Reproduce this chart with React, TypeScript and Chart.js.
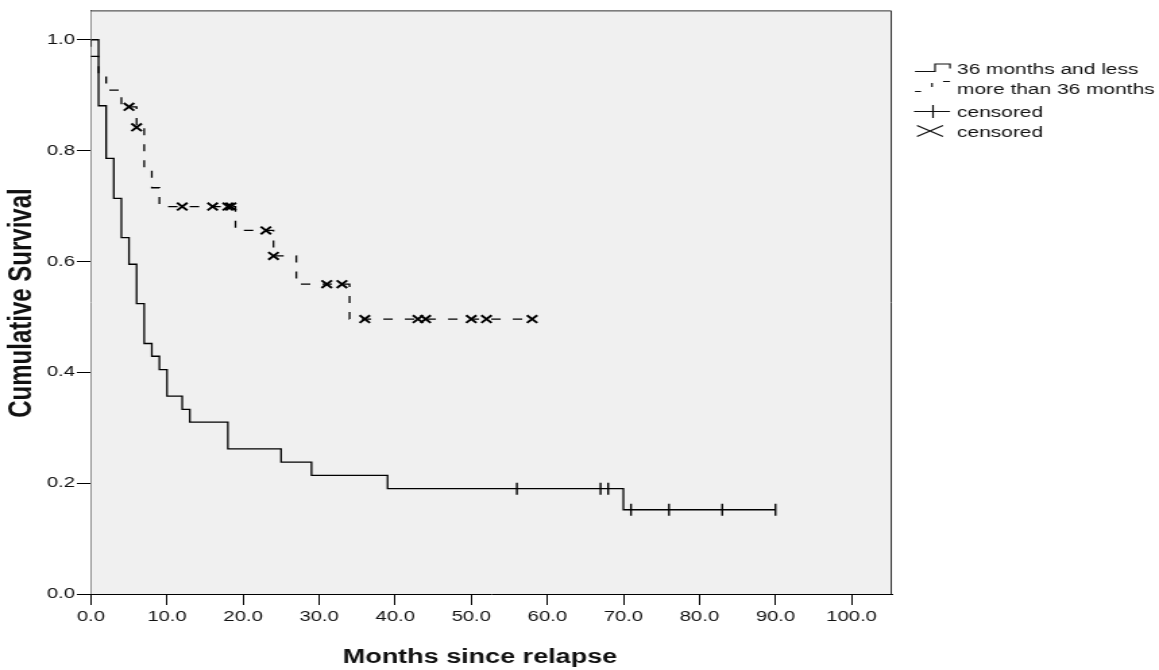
import React, { useEffect, useRef } from 'react';
import { Chart, registerables } from 'chart.js';

Chart.register(...registerables);

// The reference raster is horizontally stretched; draw on a narrower bitmap and stretch it.
const CANVAS_W = 859;
const CANVAS_H = 670;
const DISPLAY_W = 1159;

const seriesLabels = ['36 months and less', 'more than 36 months', 'censored', 'censored'];
const xAxisTitle = 'Months since relapse';
const yAxisTitle = 'Cumulative Survival';

// 36 months and less (solid step curve)
const shortTimes = [0, 1, 2, 3, 4, 5, 6, 7, 8, 9, 10, 12, 13, 18, 25, 29, 39, 70, 90];
const shortSurvival = [1.0, 0.881, 0.786, 0.714, 0.643, 0.595, 0.524, 0.452, 0.429, 0.405, 0.357, 0.333, 0.31, 0.262, 0.238, 0.214, 0.19, 0.152, 0.152];
const shortCensorTimes = [56, 67, 68, 71, 76, 83, 90];
const shortCensorSurvival = [0.19, 0.19, 0.19, 0.152, 0.152, 0.152, 0.152];

// more than 36 months (dashed step curve)
const longTimes = [0, 0, 1, 2, 4, 6, 7, 8, 9, 19, 24, 27, 34, 58];
const longSurvival = [1.0, 0.97, 0.939, 0.909, 0.879, 0.842, 0.769, 0.733, 0.699, 0.656, 0.61, 0.559, 0.496, 0.496];
const longCensorTimes = [5, 6, 12, 16, 18, 18.4, 23, 24, 31, 33, 36, 43, 44, 50, 52, 58];
const longCensorSurvival = [0.879, 0.842, 0.699, 0.699, 0.699, 0.699, 0.656, 0.61, 0.559, 0.559, 0.496, 0.496, 0.496, 0.496, 0.496, 0.496];

const xTickValues = [0, 10, 20, 30, 40, 50, 60, 70, 80, 90, 100];
const xTickLabels = ['0.0', '10.0', '20.0', '30.0', '40.0', '50.0', '60.0', '70.0', '80.0', '90.0', '100.0'];
const yTickValues = [0, 0.2, 0.4, 0.6, 0.8, 1.0];
const yTickLabels = ['0.0', '0.2', '0.4', '0.6', '0.8', '1.0'];

const X_MAX = 105.3;
const Y_MAX = 1.053;

const toPoints = (xs: number[], ys: number[]) => xs.map((x, i) => ({ x, y: ys[i] }));

const framePlugin = {
  id: 'frameAndLegend',
  beforeDatasetsDraw(chart: any) {
    const { ctx, chartArea: a } = chart;
    ctx.save();
    ctx.fillStyle = '#f0f0f0';
    ctx.fillRect(a.left, a.top, a.right - a.left, a.bottom - a.top);
    ctx.strokeStyle = '#333';
    ctx.lineWidth = 1;
    ctx.beginPath();
    ctx.moveTo(a.left, a.top + 0.5);
    ctx.lineTo(a.right - 0.5, a.top + 0.5);
    ctx.lineTo(a.right - 0.5, a.bottom);
    ctx.stroke();
    ctx.restore();
  },
  afterDraw(chart: any) {
    const { ctx } = chart;
    ctx.save();
    ctx.fillStyle = '#111';
    ctx.strokeStyle = '#111';
    // axis titles
    ctx.font = 'bold 20px "Liberation Sans", Arial, sans-serif';
    ctx.textAlign = 'left';
    ctx.textBaseline = 'alphabetic';
    ctx.fillText(xAxisTitle, 254, 663);
    ctx.save();
    ctx.translate(16.7, 303);
    ctx.rotate(-Math.PI / 2);
    ctx.font = 'bold 24px "Liberation Sans", Arial, sans-serif';
    ctx.textAlign = 'center';
    ctx.textBaseline = 'middle';
    ctx.fillText(yAxisTitle, 0, 0);
    ctx.restore();

    // legend
    const sx = (v: number) => v / (DISPLAY_W / CANVAS_W);
    ctx.font = '15.5px "Liberation Sans", Arial, sans-serif';
    ctx.textAlign = 'left';
    ctx.textBaseline = 'alphabetic';
    const textX = sx(957);
    const baselines = [74, 93.5, 116.5, 137];
    seriesLabels.forEach((t, i) => ctx.fillText(t, textX, baselines[i]));

    ctx.lineWidth = 1.2;
    // solid step symbol
    ctx.beginPath();
    ctx.moveTo(sx(915), 71.5);
    ctx.lineTo(sx(935), 71.5);
    ctx.lineTo(sx(935), 64);
    ctx.lineTo(sx(950), 64);
    ctx.lineTo(sx(950), 68.5);
    ctx.stroke();
    // dashed step symbol
    ctx.beginPath();
    ctx.moveTo(sx(915), 91.5);
    ctx.lineTo(sx(921), 91.5);
    ctx.moveTo(sx(932), 83);
    ctx.lineTo(sx(932), 87);
    ctx.moveTo(sx(943), 81.5);
    ctx.lineTo(sx(950), 81.5);
    ctx.stroke();
    // plus symbol
    ctx.beginPath();
    ctx.moveTo(sx(914), 111.5);
    ctx.lineTo(sx(950), 111.5);
    ctx.moveTo(sx(933), 105);
    ctx.lineTo(sx(933), 118);
    ctx.stroke();
    // X symbol
    ctx.beginPath();
    ctx.moveTo(sx(917), 125.5);
    ctx.lineTo(sx(943), 136.5);
    ctx.moveTo(sx(917), 136.5);
    ctx.lineTo(sx(943), 125.5);
    ctx.stroke();
    ctx.restore();
  },
};

export default function App() {
  const canvasRef = useRef<HTMLCanvasElement | null>(null);

  useEffect(() => {
    document.body.style.margin = '0';
    const canvas = canvasRef.current;
    if (!canvas) return;
    const tickFont = { family: '"Liberation Sans", Arial, sans-serif', size: 15 };
    const chart = new Chart(canvas, {
      type: 'line',
      data: {
        datasets: [
          {
            label: seriesLabels[0],
            data: toPoints(shortTimes, shortSurvival),
            stepped: 'before',
            borderColor: '#000',
            borderWidth: 1.3,
            pointRadius: 0,
            fill: false,
          },
          {
            label: seriesLabels[1],
            data: toPoints(longTimes, longSurvival),
            stepped: 'before',
            borderColor: '#000',
            borderWidth: 1.3,
            borderDash: [7, 9],
            pointRadius: 0,
            fill: false,
          },
          {
            type: 'scatter',
            label: seriesLabels[2],
            data: toPoints(shortCensorTimes, shortCensorSurvival),
            showLine: false,
            pointStyle: 'line',
            rotation: 90,
            pointRadius: 6,
            borderColor: '#000',
            borderWidth: 1.4,
          },
          {
            type: 'scatter',
            label: seriesLabels[3],
            data: toPoints(longCensorTimes, longCensorSurvival),
            showLine: false,
            pointStyle: 'crossRot',
            pointRadius: 5.4,
            borderColor: '#000',
            borderWidth: 1.9,
          },
        ] as any,
      },
      options: {
        animation: false,
        responsive: false,
        devicePixelRatio: 1,
        events: [],
        layout: { padding: { left: 0, top: 10, right: CANVAS_W - 661, bottom: 0 } },
        plugins: { legend: { display: false }, tooltip: { enabled: false }, title: { display: false } },
        scales: {
          x: {
            type: 'linear',
            min: 0,
            max: X_MAX,
            afterFit: (s: any) => { s.height = CANVAS_H - 594; },
            afterBuildTicks: (s: any) => { s.ticks = xTickValues.map((v) => ({ value: v })); },
            ticks: {
              autoSkip: false,
              maxRotation: 0,
              padding: 3,
              color: '#111',
              font: tickFont,
              callback: (_v: any, i: number) => xTickLabels[i],
            },
            grid: { drawOnChartArea: false, drawTicks: true, tickLength: 11, color: '#000', lineWidth: 1 },
            border: { display: true, color: '#000', width: 1 },
          },
          y: {
            type: 'linear',
            min: 0,
            max: Y_MAX,
            afterFit: (s: any) => { s.width = 67.4; },
            afterBuildTicks: (s: any) => { s.ticks = yTickValues.map((v) => ({ value: v })); },
            ticks: {
              autoSkip: false,
              padding: 1.4,
              color: '#111',
              font: tickFont,
              callback: (_v: any, i: number) => yTickLabels[i],
            },
            grid: { drawOnChartArea: false, drawTicks: true, tickLength: 10.4, color: '#000', lineWidth: 1 },
            border: { display: true, color: '#000', width: 1 },
          },
        },
      } as any,
      plugins: [framePlugin],
    });
    return () => chart.destroy();
  }, []);

  return (
    <canvas
      ref={canvasRef}
      width={CANVAS_W}
      height={CANVAS_H}
      style={{ width: DISPLAY_W + 'px', height: CANVAS_H + 'px', display: 'block' }}
    />
  );
}
